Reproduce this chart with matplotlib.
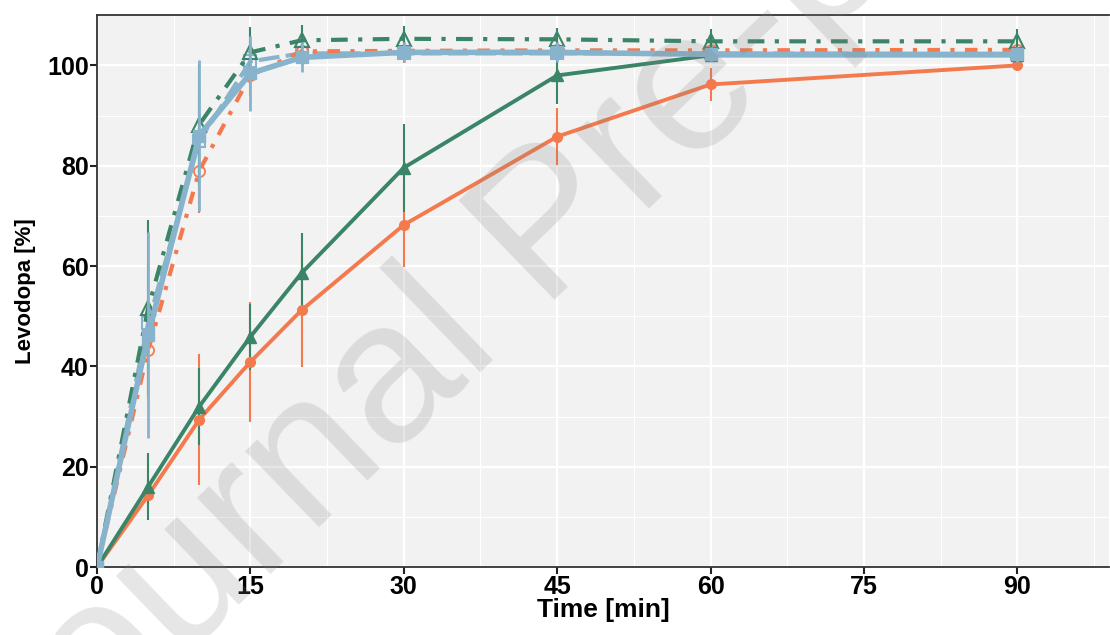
import numpy as np
import matplotlib
matplotlib.use("Agg")
import matplotlib.pyplot as plt
from matplotlib.ticker import MultipleLocator

# 溶出時間 [min]
time = [0, 5, 10, 15, 20, 30, 45, 60, 90]

# 各製剤の平均溶出率 [%] と標準偏差
orange_slow = [0, 14.3, 29.4, 40.9, 51.2, 68.2, 85.8, 96.2, 100.0]
orange_slow_sd = [0, 2.0, 13.0, 12.0, 11.3, 8.3, 5.7, 3.2, 0.6]
green_slow = [0, 16.0, 32.0, 45.9, 58.6, 79.6, 98.0, 102.0, 102.0]
green_slow_sd = [0, 6.7, 7.7, 6.6, 8.0, 8.8, 5.6, 1.2, 0.8]

orange_fast = [0, 43.2, 79.0, 98.0, 102.8, 102.9, 103.0, 103.0, 103.1]
orange_fast_sd = [0, 10.0, 8.5, 4.0, 2.5, 2.5, 2.2, 2.0, 2.0]
green_fast = [0, 51.6, 88.2, 102.6, 105.0, 105.3, 105.2, 104.8, 104.8]
green_fast_sd = [0, 17.5, 12.0, 5.0, 3.0, 2.5, 2.2, 2.5, 2.5]

blue_solid = [0, 46.2, 86.0, 98.4, 101.6, 102.6, 102.6, 102.2, 102.2]
blue_solid_sd = [0, 20.5, 15.0, 7.5, 3.0, 2.0, 2.0, 1.5, 1.5]
blue_dash = [0, 48.6, 85.0, 100.8, 102.4, 102.4, 102.4, 102.4, 102.2]
blue_dash_sd = [0, 12.0, 10.0, 5.0, 2.5, 2.0, 2.0, 1.5, 1.5]

orange = '#F47A4E'
green = '#3A8567'
blue = '#88B3CC'

plt.rcParams['font.family'] = ['Liberation Sans', 'DejaVu Sans']

fig = plt.figure(figsize=(11.1, 6.35), dpi=100)
ax = fig.add_axes([0.0874, 0.107, 0.912, 0.869])
ax.set_facecolor('#F2F2F2')

# 速放性製剤（破線・一点鎖線、白抜きマーカー）
ax.errorbar(time, blue_dash, yerr=blue_dash_sd, color=blue, lw=3, dashes=(5, 1.5),
            marker='s', ms=8, mfc='none', mec=blue, mew=1.5, elinewidth=1.5, capsize=0, zorder=3)
ax.errorbar(time, orange_fast, yerr=orange_fast_sd, color=orange, lw=3, dashes=(3, 2.5, 1, 2.5),
            marker='o', ms=8, mfc='none', mec=orange, mew=1.3, elinewidth=1.5, capsize=0, zorder=3)
ax.errorbar(time, green_fast, yerr=green_fast_sd, color=green, lw=3, dashes=(4, 2.5, 1, 2.5),
            marker='^', ms=10, mfc='none', mec=green, mew=1.5, elinewidth=1.5, capsize=0, zorder=4)
ax.errorbar(time, blue_solid, yerr=blue_solid_sd, color=blue, lw=4,
            marker='s', ms=8, mfc=blue, mec=blue, elinewidth=2, capsize=0, zorder=5)

# 徐放性製剤（実線、塗りつぶしマーカー）
ax.errorbar(time, orange_slow, yerr=orange_slow_sd, color=orange, lw=2.8,
            marker='o', ms=7, mfc=orange, mec=orange, elinewidth=1.5, capsize=0, zorder=3)
ax.errorbar(time, green_slow, yerr=green_slow_sd, color=green, lw=2.8,
            marker='^', ms=9, mfc=green, mec=green, elinewidth=1.5, capsize=0, zorder=3)

ax.set_xlim(0, 99)
ax.set_ylim(0, 110)
ax.xaxis.set_major_locator(MultipleLocator(15))
ax.xaxis.set_minor_locator(MultipleLocator(7.5))
ax.yaxis.set_major_locator(MultipleLocator(20))
ax.yaxis.set_minor_locator(MultipleLocator(10))
ax.grid(which='major', color='white', lw=1.6, zorder=0)
ax.grid(which='minor', color='white', lw=0.8, zorder=0)
ax.set_axisbelow(True)

ax.tick_params(which='major', direction='out', length=5, width=1.5, color='#222222',
               labelsize=18, pad=1)
ax.tick_params(which='minor', length=0)
for lab in ax.get_xticklabels() + ax.get_yticklabels():
    lab.set_fontweight('bold')

for side in ['top', 'left', 'bottom']:
    ax.spines[side].set_color('#333333')
    ax.spines[side].set_linewidth(1.3)
ax.spines['right'].set_visible(False)

ax.set_xlabel('Time [min]', fontsize=19, fontweight='bold', labelpad=-1)
ax.set_ylabel('Levodopa [%]', fontsize=16, fontweight='bold', labelpad=8)

# 透かし文字
fig.text(0.497, 0.635, 'Journal Pre-proof', fontsize=145, color='gray', alpha=0.2,
         rotation=44, ha='center', va='center', zorder=10)

fig.savefig('out.png', dpi=100)
